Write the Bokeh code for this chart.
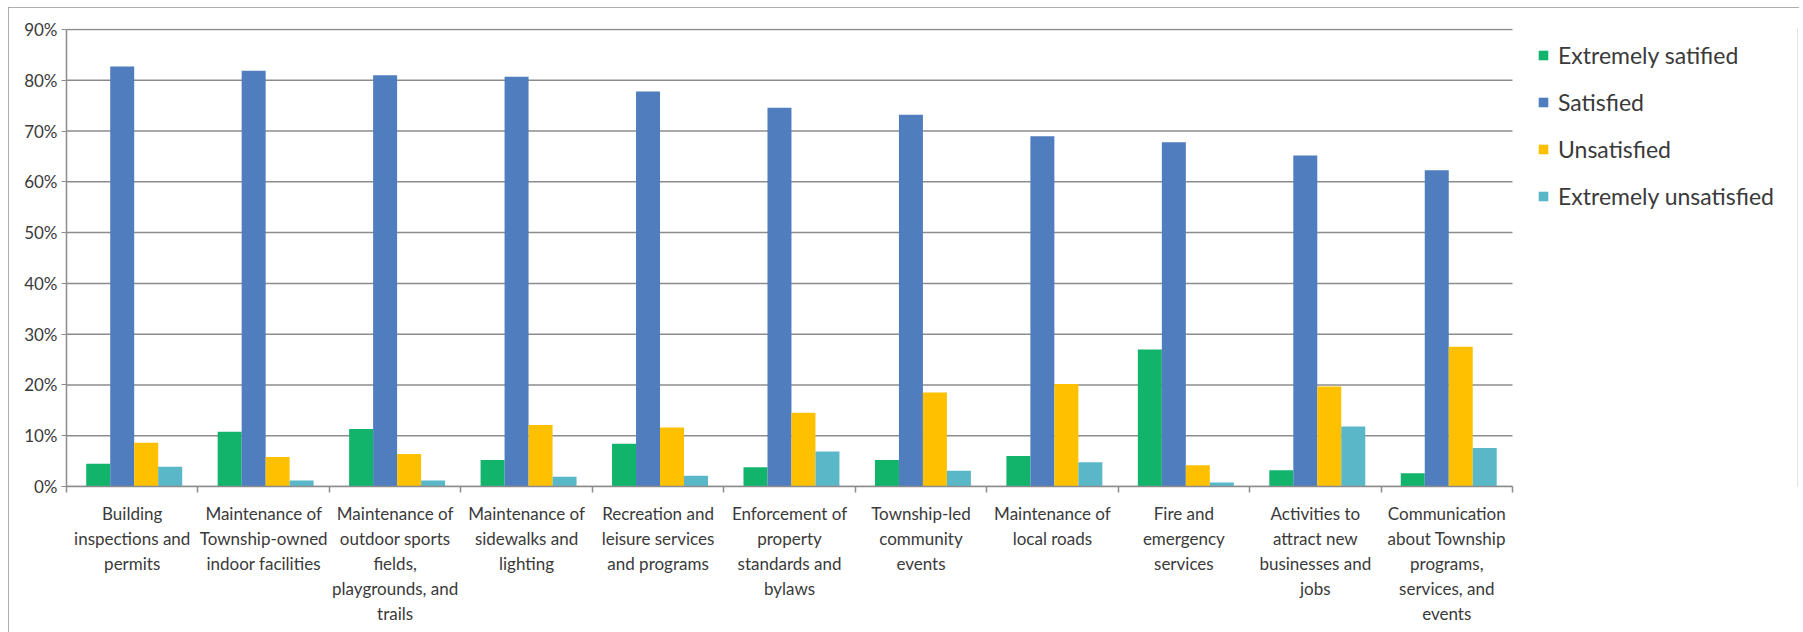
from bokeh.plotting import figure
from bokeh.models import (Range1d, LinearAxis, FixedTicker, PrintfTickFormatter, Legend,
                          LegendItem, ColumnDataSource, Grid)
from bokeh.transform import dodge
from bokeh.embed import file_html
from bokeh.resources import INLINE

categories = [
    "Building inspections and permits",
    "Maintenance of Township-owned indoor facilities",
    "Maintenance of outdoor sports fields, playgrounds, and trails",
    "Maintenance of sidewalks and lighting",
    "Recreation and leisure services and programs",
    "Enforcement of property standards and bylaws",
    "Township-led community events",
    "Maintenance of local roads",
    "Fire and emergency services",
    "Activities to attract new businesses and jobs",
    "Communication about Township programs, services, and events",
]
tick_labels = [
    "Building\ninspections and\npermits",
    "Maintenance of\nTownship-owned\nindoor facilities",
    "Maintenance of\noutdoor sports\nfields,\nplaygrounds, and\ntrails",
    "Maintenance of\nsidewalks and\nlighting",
    "Recreation and\nleisure services\nand programs",
    "Enforcement of\nproperty\nstandards and\nbylaws",
    "Township-led\ncommunity\nevents",
    "Maintenance of\nlocal roads",
    "Fire and\nemergency\nservices",
    "Activities to\nattract new\nbusinesses and\njobs",
    "Communication\nabout Township\nprograms,\nservices, and\nevents",
]
series_names = ["Extremely satified", "Satisfied", "Unsatisfied", "Extremely unsatisfied"]
extremely_satisfied = [4.5, 10.8, 11.3, 5.2, 8.4, 3.8, 5.2, 6.0, 27.0, 3.2, 2.6]
satisfied = [82.7, 81.9, 81.0, 80.7, 77.8, 74.6, 73.2, 69.0, 67.8, 65.2, 62.3]
unsatisfied = [8.6, 5.8, 6.4, 12.1, 11.6, 14.5, 18.5, 20.2, 4.2, 19.7, 27.5]
extremely_unsatisfied = [3.9, 1.2, 1.2, 1.9, 2.1, 6.9, 3.1, 4.8, 0.8, 11.8, 7.6]
y_ticks = [0, 10, 20, 30, 40, 50, 60, 70, 80, 90]

colors = ["#12B36A", "#4F7DBD", "#FFC000", "#5AB7C8"]
FONT = "Lato"
TXT = "#3a3a3a"
GRAY = "#8c8c8c"

n = len(categories)
centers = [i + 0.5 for i in range(n)]
bounds = list(range(n + 1))

source = ColumnDataSource(dict(x=centers, cat=categories, s0=extremely_satisfied, s1=satisfied,
                               s2=unsatisfied, s3=extremely_unsatisfied))
grid_src = ColumnDataSource(dict(y=y_ticks, x0=[0] * len(y_ticks), x1=[n] * len(y_ticks)))

# category area is 1446 px of a 1731 px wide frame; the rest holds the legend
x_end = n * 1731 / 1446
p = figure(width=1791, height=627, x_range=Range1d(0, x_end), y_range=Range1d(0, 90.2),
           x_axis_location=None, y_axis_location=None, output_backend="svg",
           toolbar_location=None, min_border_left=58, min_border_right=2,
           min_border_top=21, min_border_bottom=148)
p.margin = (7, 0, 0, 8)
p.styles = {"outline": "2px solid #939393", "outline-offset": "-2px"}
p.outline_line_color = None
p.background_fill_color = "white"
p.border_fill_color = "white"
p.center = [r for r in p.center if not isinstance(r, Grid)]

# horizontal gridlines over the category area only
p.segment(x0="x0", x1="x1", y0="y", y1="y", source=grid_src, line_color=GRAY, line_width=1.5)

# y axis
yax = LinearAxis(ticker=FixedTicker(ticks=y_ticks), formatter=PrintfTickFormatter(format="%d%%"))
yax.axis_line_color = GRAY
yax.axis_line_width = 1.5
yax.bounds = (0, 90)
yax.major_tick_line_color = GRAY
yax.major_tick_out = 5
yax.major_tick_in = 0
yax.minor_tick_line_color = None
yax.major_label_text_font = FONT
yax.major_label_text_font_size = "17px"
yax.major_label_text_color = TXT
yax.major_label_standoff = 4
p.add_layout(yax, "left")

# x axis: labels at category centres, ticks at category boundaries
xax = LinearAxis(ticker=FixedTicker(ticks=centers, minor_ticks=bounds))
xax.bounds = (0, n)
xax.axis_line_color = GRAY
xax.axis_line_width = 1.5
xax.major_tick_line_color = None
xax.minor_tick_line_color = GRAY
xax.minor_tick_line_width = 1.5
xax.minor_tick_out = 6
xax.minor_tick_in = 0
xax.major_label_text_font = FONT
xax.major_label_text_font_size = "17px"
xax.major_label_text_color = TXT
xax.major_label_standoff = 10
xax.major_label_overrides = {c: t for c, t in zip(centers, tick_labels)}
p.add_layout(xax, "below")

w = 0.1825
offsets = [-1.5 * w, -0.5 * w, 0.5 * w, 1.5 * w]
renderers = []
for i, key in enumerate(["s0", "s1", "s2", "s3"]):
    r = p.vbar(x=dodge("x", offsets[i] + 0.015), top=key, width=w,
               source=source, fill_color=colors[i], line_color=None)
    renderers.append(r)

legend = Legend(items=[LegendItem(label=nm, renderers=[r]) for nm, r in zip(series_names, renderers)],
                location=(1471, 276))
legend.border_line_color = None
legend.background_fill_alpha = 0
legend.padding = 0
legend.margin = 0
legend.glyph_width = 12
legend.glyph_height = 12
legend.label_height = 24
legend.spacing = 19
legend.label_standoff = 9
legend.label_text_font = FONT
legend.label_text_font_size = "23px"
legend.label_text_color = TXT
p.add_layout(legend, "center")

open("out.html", "w").write(file_html(p, INLINE))
